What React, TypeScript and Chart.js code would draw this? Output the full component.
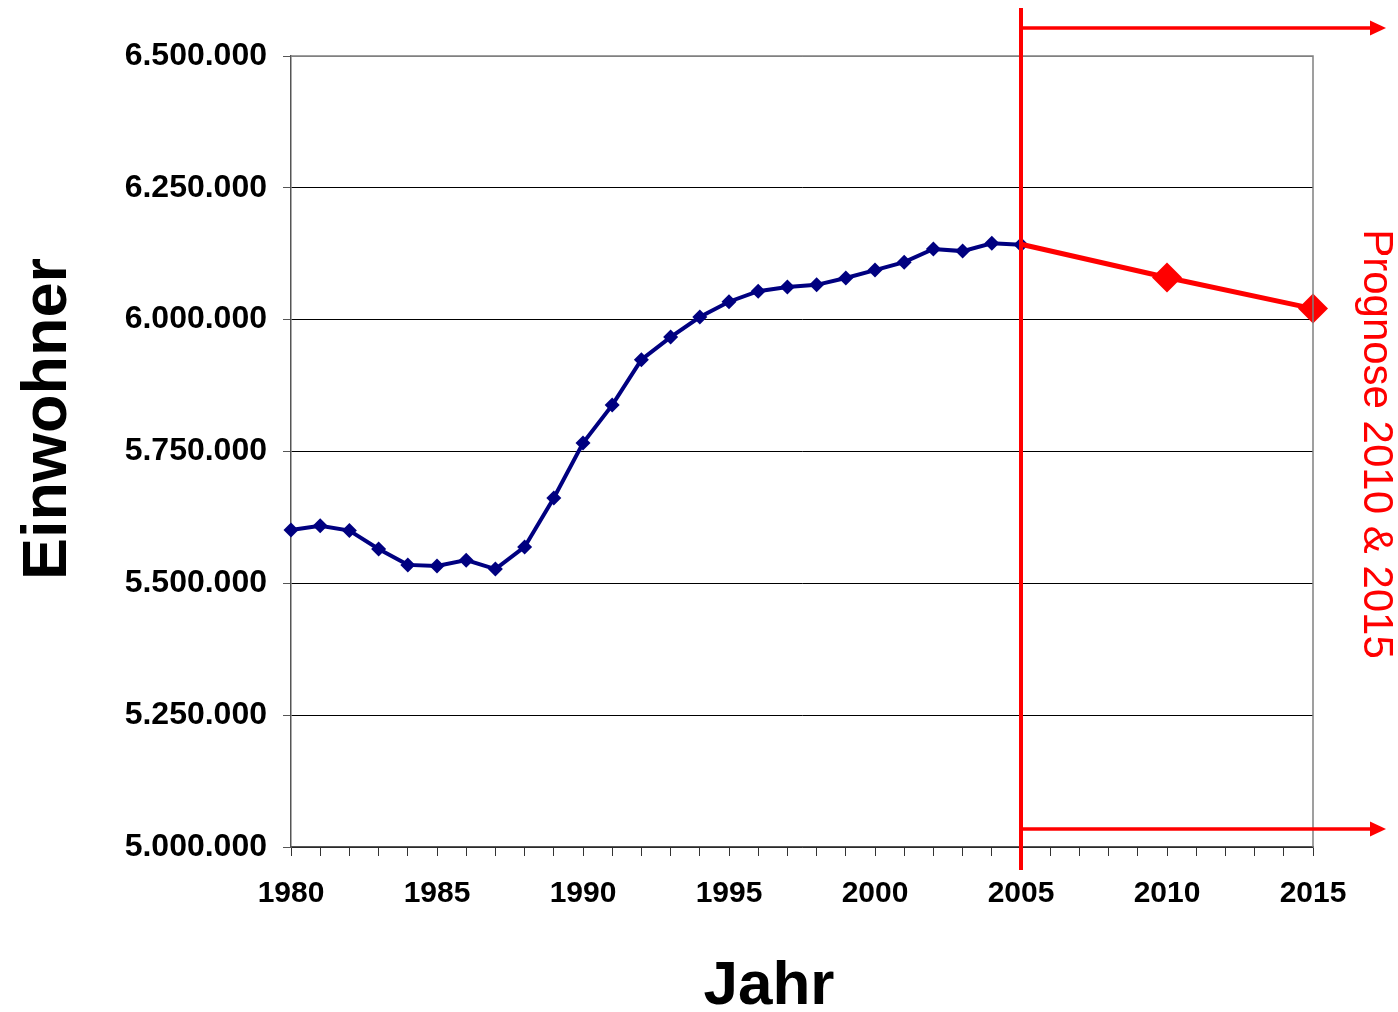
import React, { useEffect, useRef } from "react";
import { Chart, registerables } from "chart.js";

Chart.register(...registerables);

const years: number[] = [
  1980, 1981, 1982, 1983, 1984, 1985, 1986, 1987, 1988, 1989,
  1990, 1991, 1992, 1993, 1994, 1995, 1996, 1997, 1998, 1999,
  2000, 2001, 2002, 2003, 2004, 2005,
];
const einwohner: number[] = [
  5601000, 5609000, 5600000, 5565000, 5535000, 5533000, 5544000, 5527000, 5569000, 5662000,
  5766000, 5838000, 5924000, 5967000, 6005000, 6034000, 6054000, 6062000, 6066000, 6079000,
  6094000, 6109000, 6134000, 6130000, 6145000, 6142000,
];
const prognoseYears: number[] = [2005, 2010, 2015];
const prognoseValues: number[] = [6143000, 6080000, 6021000];
const xLabelYears: number[] = [1980, 1985, 1990, 1995, 2000, 2005, 2010, 2015];

const FONT = '"Liberation Sans", Arial, Helvetica, sans-serif';
const RED = "#ff0000";
const NAVY = "#000080";

function fmt(v: number): string {
  return String(Math.round(v)).replace(/\B(?=(\d{3})+(?!\d))/g, ".");
}

const overlayPlugin = {
  id: "overlay",
  afterDatasetsDraw(chart: any) {
    const ctx = chart.ctx;
    const x = chart.scales.x;
    const area = chart.chartArea;
    ctx.save();
    // plot border (top & right)
    ctx.strokeStyle = "#808080";
    ctx.lineWidth = 1.5;
    ctx.beginPath();
    ctx.moveTo(area.left, area.top);
    ctx.lineTo(area.right, area.top);
    ctx.lineTo(area.right, area.bottom);
    ctx.stroke();

    // red vertical line at 2005
    const xv = x.getPixelForValue(2005);
    ctx.strokeStyle = RED;
    ctx.lineWidth = 4;
    ctx.beginPath();
    ctx.moveTo(xv, 8);
    ctx.lineTo(xv, 870);
    ctx.stroke();

    // arrows
    const drawArrow = (y: number) => {
      const x0 = xv + 2;
      const x1 = 1386;
      ctx.strokeStyle = RED;
      ctx.fillStyle = RED;
      ctx.lineWidth = 3.5;
      ctx.beginPath();
      ctx.moveTo(x0, y);
      ctx.lineTo(x1 - 14, y);
      ctx.stroke();
      ctx.beginPath();
      ctx.moveTo(x1, y);
      ctx.lineTo(x1 - 16, y - 7.5);
      ctx.lineTo(x1 - 16, y + 7.5);
      ctx.closePath();
      ctx.fill();
    };
    drawArrow(28);
    drawArrow(829);

    // titles
    ctx.fillStyle = "#000";
    ctx.font = `bold 62px ${FONT}`;
    ctx.textAlign = "center";
    ctx.textBaseline = "alphabetic";
    ctx.fillText("Jahr", 769, 1004);

    ctx.save();
    ctx.translate(66, 419);
    ctx.rotate(-Math.PI / 2);
    ctx.font = `bold 63px ${FONT}`;
    ctx.textAlign = "center";
    ctx.fillText("Einwohner", 0, 0);
    ctx.restore();

    ctx.save();
    ctx.translate(1364, 444);
    ctx.rotate(Math.PI / 2);
    ctx.font = `42px ${FONT}`;
    ctx.fillStyle = RED;
    ctx.textAlign = "center";
    ctx.fillText("Prognose 2010 & 2015", 0, 0);
    ctx.restore();

    ctx.restore();
  },
};

export default function App() {
  const ref = useRef<HTMLCanvasElement | null>(null);

  useEffect(() => {
    document.body.style.margin = "0";
    const canvas = ref.current;
    if (!canvas) return;
    const chart = new Chart(canvas, {
      type: "line",
      data: {
        datasets: [
          {
            label: "Einwohner",
            data: years.map((y, i) => ({ x: y, y: einwohner[i] })),
            borderColor: NAVY,
            backgroundColor: NAVY,
            borderWidth: 4,
            pointStyle: "rectRot",
            pointRadius: 7.5,
            pointBorderWidth: 0,
            pointBackgroundColor: NAVY,
            tension: 0,
            clip: false,
            order: 2,
          },
          {
            label: "Prognose",
            data: prognoseYears.map((y, i) => ({ x: y, y: prognoseValues[i] })),
            borderColor: RED,
            backgroundColor: RED,
            borderWidth: 5,
            pointStyle: "rectRot",
            pointRadius: [0, 15, 15],
            pointBorderWidth: 0,
            pointBackgroundColor: RED,
            tension: 0,
            clip: false,
            order: 1,
          },
        ],
      },
      options: {
        responsive: false,
        animation: false,
        events: [],
        layout: { padding: { top: 56, right: 85, left: 0, bottom: 0 } },
        plugins: { legend: { display: false }, tooltip: { enabled: false } },
        scales: {
          x: {
            type: "linear",
            min: 1980,
            max: 2015,
            afterFit: (s: any) => {
              s.height = 165;
            },
            afterBuildTicks: (s: any) => {
              const t = [];
              for (let y = 1980; y <= 2015; y++) t.push({ value: y });
              s.ticks = t;
            },
            ticks: {
              autoSkip: false,
              maxRotation: 0,
              padding: 20,
              color: "#000",
              font: { family: FONT, size: 30, weight: "bold" },
              callback: (v: any) => (xLabelYears.includes(Number(v)) ? String(v) : ""),
            },
            grid: {
              drawOnChartArea: false,
              drawTicks: true,
              tickLength: 9,
              color: "#333",
              lineWidth: 1,
            },
            border: { display: true, color: "#555", width: 1.5 },
          },
          y: {
            min: 5000000,
            max: 6500000,
            afterFit: (s: any) => {
              s.width = 291;
            },
            ticks: {
              stepSize: 250000,
              padding: 16,
              color: "#000",
              font: { family: FONT, size: 32, weight: "bold" },
              callback: (v: any) => fmt(Number(v)),
            },
            grid: {
              color: (c: any) => (c.tick && c.tick.value === 6500000 ? "#808080" : "#000"),
              lineWidth: 1,
              tickLength: 8,
              tickColor: "#555",
            },
            border: { display: true, color: "#555", width: 1.5 },
          },
        },
      },
      plugins: [overlayPlugin],
    } as any);
    return () => chart.destroy();
  }, []);

  return (
    <div style={{ position: "absolute", left: 0, top: 0, width: 1398, height: 1012 }}>
      <canvas ref={ref} width={1398} height={1012} style={{ width: 1398, height: 1012 }} />
    </div>
  );
}
